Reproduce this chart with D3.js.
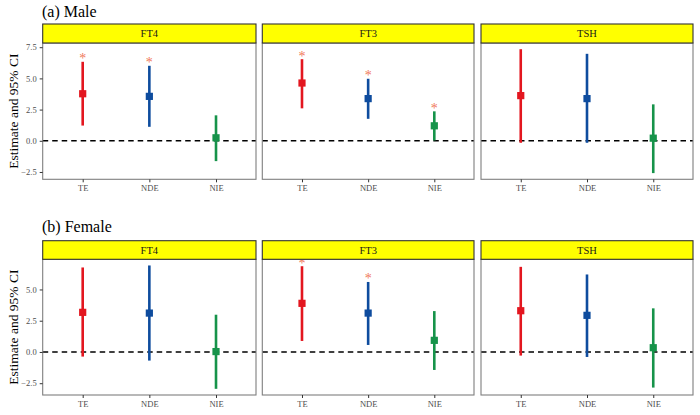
<!DOCTYPE html>
<html>
<head>
<meta charset="utf-8">
<script src="https://cdn.jsdelivr.net/npm/d3@7"></script>
<style>
  html, body { margin: 0; padding: 0; background: #fff; }
  svg { display: block; }
  svg text { font-family: "Liberation Serif", "Times New Roman", serif; }
</style>
</head>
<body>
<svg id="chart" width="700" height="415"></svg>
<script>
// ---------- data ----------
const effects = ["TE", "NDE", "NIE"];
const hormones = ["FT4", "FT3", "TSH"];
const rowTitles = ["(a) Male", "(b) Female"];
const yTicks = [-2.5, 0, 2.5, 5, 7.5];

// Male: per hormone, values for TE, NDE, NIE
const maleEst  = [[3.77, 3.56, 0.24], [4.63, 3.38, 1.20], [3.62, 3.38, 0.21]];
const maleLow  = [[1.22, 1.12, -1.63], [2.60, 1.76, 0.03], [-0.16, -0.16, -2.59]];
const maleHigh = [[6.33, 6.01, 2.04], [6.54, 4.97, 2.36], [7.34, 6.97, 2.92]];
const maleSig  = [[1, 1, 0], [1, 1, 1], [0, 0, 0]];

// Female
const femaleEst  = [[3.17, 3.11, 0.03], [3.89, 3.11, 0.93], [3.30, 2.93, 0.34]];
const femaleLow  = [[-0.37, -0.69, -2.95], [0.88, 0.56, -1.44], [-0.29, -0.40, -2.85]];
const femaleHigh = [[6.76, 6.92, 2.98], [6.86, 5.60, 3.27], [6.81, 6.20, 3.49]];
const femaleSig  = [[0, 0, 0], [1, 1, 0], [0, 0, 0]];

const effectColors = ["#E3161F", "#0E4C9E", "#16934A"];
const starColor = "#F0785A";

// ---------- layout ----------
const FONT = "Liberation Serif, Times New Roman, serif";
const svg = d3.select("#chart");
const panelX = [[42.7, 256], [262.3, 474], [481, 693]];
const rows = [
  { title: rowTitles[0], titleY: 16.5, stripTop: 24, plotTop: 43, plotBottom: 179.3,
    est: maleEst, low: maleLow, high: maleHigh, sig: maleSig },
  { title: rowTitles[1], titleY: 231.5, stripTop: 240.7, plotTop: 259.3, plotBottom: 395,
    est: femaleEst, low: femaleLow, high: femaleHigh, sig: femaleSig }
];

rows.forEach((row) => {
  const all = row.low.flat().concat(row.high.flat());
  const mn = d3.min(all), mx = d3.max(all);
  const pad = (mx - mn) * 0.05;
  const y = d3.scaleLinear().domain([mn - pad, mx + pad]).range([row.plotBottom, row.plotTop]);

  // row title
  svg.append("text").attr("x", 42).attr("y", row.titleY)
    .attr("font-family", FONT).attr("font-size", 16).attr("fill", "#000").text(row.title);

  // y-axis title
  svg.append("text")
    .attr("transform", `translate(17.5,${(row.plotTop + row.plotBottom) / 2}) rotate(-90)`)
    .attr("text-anchor", "middle").attr("font-family", FONT).attr("font-size", 13.5).attr("fill", "#000")
    .text("Estimate and 95% CI");

  hormones.forEach((h, hi) => {
    const [x0, x1] = panelX[hi];
    const x = d3.scalePoint().domain(effects).range([x0, x1]).padding(0.6);
    const g = svg.append("g");

    g.append("rect").attr("x", x0).attr("y", row.plotTop)
      .attr("width", x1 - x0).attr("height", row.plotBottom - row.plotTop)
      .attr("fill", "#fff");

    // zero dashed line
    g.append("line").attr("x1", x0).attr("x2", x1)
      .attr("y1", y(0)).attr("y2", y(0))
      .attr("stroke", "#000").attr("stroke-width", 1.5).attr("stroke-dasharray", "5.5,4");

    // error bars, points, significance stars
    effects.forEach((e, ei) => {
      g.append("line").attr("x1", x(e)).attr("x2", x(e))
        .attr("y1", y(row.low[hi][ei])).attr("y2", y(row.high[hi][ei]))
        .attr("stroke", effectColors[ei]).attr("stroke-width", 2.6);
      g.append("rect").attr("x", x(e) - 3.6).attr("y", y(row.est[hi][ei]) - 3.6)
        .attr("width", 7.2).attr("height", 7.2).attr("fill", effectColors[ei]);
      if (row.sig[hi][ei]) {
        g.append("text").attr("x", x(e)).attr("y", y(row.high[hi][ei]) + 1.5)
          .attr("text-anchor", "middle").attr("font-family", FONT).attr("font-size", 14)
          .attr("fill", starColor).text("*");
      }
    });

    // panel border
    g.append("rect").attr("x", x0).attr("y", row.plotTop)
      .attr("width", x1 - x0).attr("height", row.plotBottom - row.plotTop)
      .attr("fill", "none").attr("stroke", "#7F7F7F").attr("stroke-width", 1.1);

    // strip
    g.append("rect").attr("x", x0).attr("y", row.stripTop)
      .attr("width", x1 - x0).attr("height", row.plotTop - row.stripTop)
      .attr("fill", "#FFFF00").attr("stroke", "#333").attr("stroke-width", 1.1);
    g.append("text").attr("x", (x0 + x1) / 2).attr("y", (row.stripTop + row.plotTop) / 2 + 3.5)
      .attr("text-anchor", "middle").attr("font-family", FONT).attr("font-size", 10.5)
      .attr("fill", "#1A1A1A").text(h);

    // x axis ticks
    const xa = g.append("g").attr("transform", `translate(0,${row.plotBottom})`)
      .call(d3.axisBottom(x).tickSize(3).tickPadding(3));
    xa.attr("font-family", FONT);
    xa.select(".domain").remove();
    xa.selectAll(".tick line").attr("stroke", "#333").attr("stroke-width", 1);
    xa.selectAll(".tick text").attr("font-family", FONT)
      .attr("font-size", 8.5).attr("fill", "#4D4D4D");

    // y axis (first panel only)
    if (hi === 0) {
      const ticks = yTicks.filter(t => t >= y.domain()[0] && t <= y.domain()[1]);
      const ya = g.append("g").attr("transform", `translate(${x0},0)`)
        .call(d3.axisLeft(y).tickValues(ticks).tickFormat(d3.format(".1f")).tickSize(3).tickPadding(3));
      ya.attr("font-family", FONT);
      ya.select(".domain").remove();
      ya.selectAll(".tick line").attr("stroke", "#333").attr("stroke-width", 1);
      ya.selectAll(".tick text").attr("font-family", FONT)
        .attr("font-size", 8.5).attr("fill", "#4D4D4D");
    }
  });
});
</script>
</body>
</html>
